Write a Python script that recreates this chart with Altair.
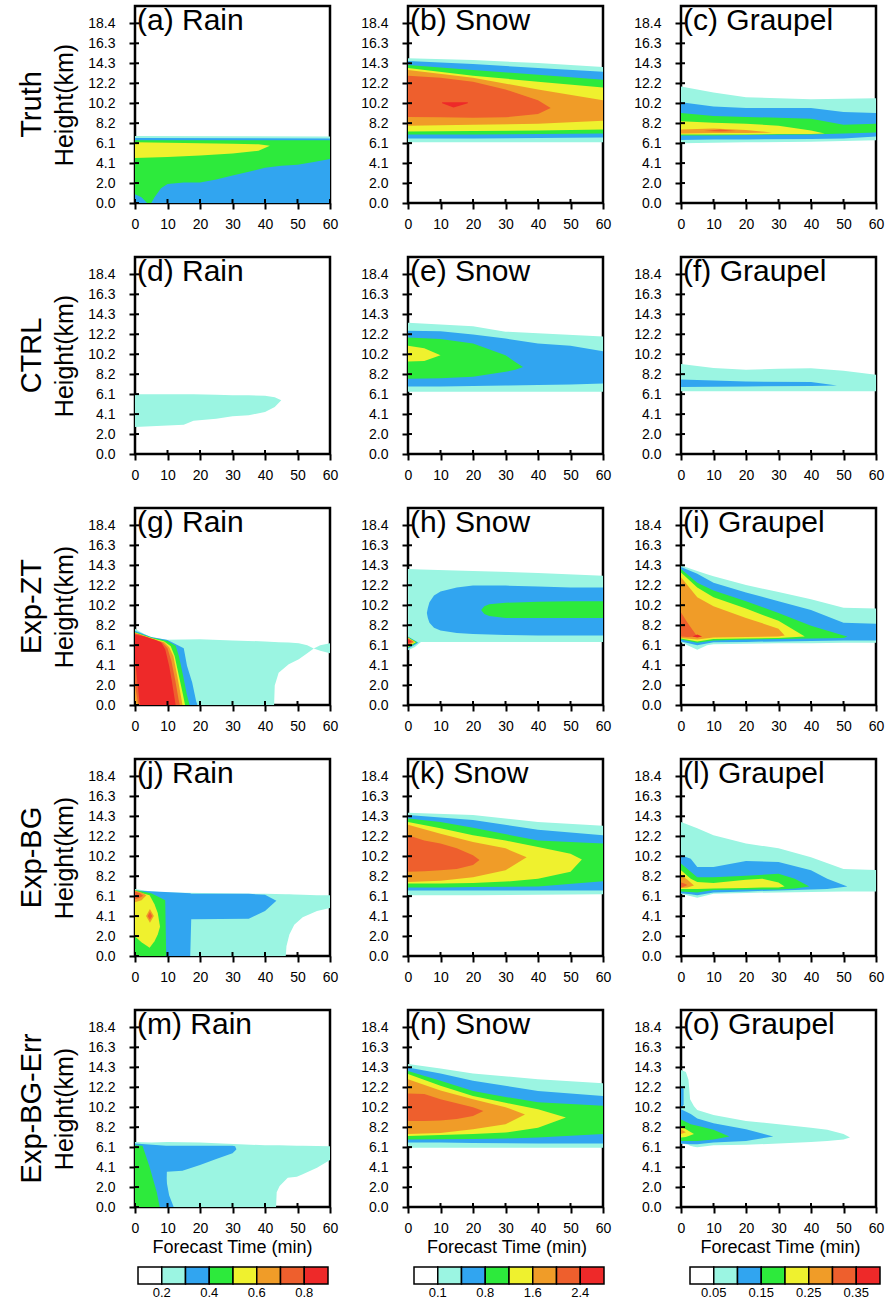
import altair as alt
import pandas as pd

FONT = "Liberation Sans"
LEVEL_COLORS = ["#ffffff", "#9bf5e2", "#31a5f0", "#2dea3c", "#eff12e", "#f09c28", "#ee5f2d", "#ee2929"]
ROW_NAMES = ["Truth", "CTRL", "Exp-ZT", "Exp-BG", "Exp-BG-Err"]
COL_NAMES = ["Rain", "Snow", "Graupel"]
LETTERS = list("abcdefghijklmno")
X_TICKS = [0, 10, 20, 30, 40, 50, 60]
Y_TICKS = [0, 2.04, 4.08, 6.12, 8.16, 10.2, 12.24, 14.28, 16.32, 18.36]
Y_LABELS = ["0.0", "2.0", "4.1", "6.1", "8.2", "10.2", "12.2", "14.3", "16.3", "18.4"]
Y_MAX = 20.13
X_TITLE = "Forecast Time (min)"
Y_TITLE = "Height(km)"
CB_LABEL_POS = [1, 3, 5, 7]
CB_LABELS = [["0.2", "0.4", "0.6", "0.8"],
             ["0.1", "0.8", "1.6", "2.4"],
             ["0.05", "0.15", "0.25", "0.35"]]

# pieces: (level, times, lower km, upper km)
A_RAIN = [
    (1, [0, 60], [0, 0], [6.85, 6.8]),
    (2, [0, 60], [0, 0], [6.65, 6.6]),
    (3, [0, 2, 3.7, 5, 6, 8, 10, 15, 20, 25, 30, 35, 40, 45, 50, 55, 60],
        [0.9, 0.6, 0, 0, 0.6, 1.5, 1.95, 2.1, 2.1, 2.4, 2.8, 3.2, 3.6, 3.8, 3.9, 4.2, 4.5],
        [6.4, 6.4, 6.4, 6.4, 6.4, 6.4, 6.4, 6.4, 6.4, 6.4, 6.4, 6.4, 6.4, 6.4, 6.4, 6.4, 6.4]),
    (4, [0, 10, 20, 30, 38, 41.5], [4.6, 4.7, 4.85, 5.05, 5.35, 5.85], [6.2, 6.15, 6.1, 6.05, 6.0, 5.85]),
]
B_SNOW = [
    (1, [0, 20, 40, 60], [6.2, 6.2, 6.2, 6.2], [14.8, 14.6, 14.3, 13.9]),
    (2, [0, 20, 40, 60], [6.6, 6.6, 6.65, 6.7], [14.5, 14.2, 13.8, 13.4]),
    (3, [0, 20, 40, 60], [7.0, 7.0, 7.05, 7.1], [14.1, 13.6, 13.1, 12.6]),
    (4, [0, 20, 40, 60], [7.3, 7.35, 7.4, 7.5], [13.8, 13.0, 12.4, 11.8]),
    (5, [0, 20, 40, 60], [7.9, 8.0, 8.1, 8.4], [13.6, 12.8, 11.6, 10.5]),
    (6, [0, 10, 20, 30, 40, 43.9], [8.8, 8.75, 8.7, 8.75, 9.1, 9.7], [13.0, 12.8, 12.4, 11.6, 10.5, 9.7]),
    (7, [10.5, 14, 18.4], [10.2, 9.75, 10.2], [10.3, 10.3, 10.3]),
]
C_GRAUPEL = [
    (1, [0, 10, 20, 40, 60], [6.1, 6.15, 6.2, 6.25, 6.4], [11.9, 11.3, 10.8, 10.6, 10.7]),
    (2, [0, 10, 20, 40, 50, 60], [6.45, 6.5, 6.5, 6.55, 6.6, 6.8], [10.3, 9.85, 9.7, 9.7, 9.3, 9.2]),
    (3, [0, 10, 20, 40, 50, 60], [6.9, 6.9, 6.95, 7.0, 7.1, 7.2], [9.2, 8.9, 8.8, 8.6, 8.0, 8.1]),
    (4, [0, 10, 20, 30, 40, 44.2], [7.0, 7.0, 7.0, 7.05, 7.05, 7.1], [8.35, 8.2, 8.1, 7.9, 7.4, 7.1]),
    (5, [0, 10, 20, 28], [7.1, 7.15, 7.15, 7.2], [7.5, 7.6, 7.45, 7.2]),
    (6, [7, 12, 17], [7.35, 7.3, 7.35], [7.35, 7.5, 7.35]),
]
D_RAIN = [
    (1, [0, 10, 15, 18, 25, 30, 35, 40, 43, 45],
        [2.75, 2.9, 3.0, 3.4, 3.6, 3.85, 3.95, 4.3, 4.8, 5.5],
        [6.1, 6.1, 6.1, 6.1, 6.05, 6.0, 6.0, 5.95, 5.8, 5.5]),
]
E_SNOW = [
    (1, [0, 20, 30, 40, 60], [6.35, 6.35, 6.35, 6.35, 6.35], [13.4, 13.05, 12.5, 12.35, 12.0]),
    (2, [0, 10, 20, 30, 40, 50, 60], [6.9, 6.9, 6.95, 7.0, 7.05, 7.1, 7.2],
        [12.6, 12.55, 12.2, 11.8, 11.3, 11.05, 10.5]),
    (3, [0, 10, 20, 30, 33, 35.4], [7.7, 7.75, 7.9, 8.4, 8.6, 8.9], [11.9, 11.75, 11.3, 10.1, 9.4, 8.9]),
    (4, [0, 5, 10], [9.45, 9.5, 10.1], [11.05, 10.8, 10.1]),
]
F_GRAUPEL = [
    (1, [0, 10, 20, 30, 40, 50, 60], [6.4, 6.4, 6.4, 6.4, 6.4, 6.4, 6.4], [9.2, 8.8, 8.6, 8.7, 8.75, 8.5, 8.1]),
    (2, [0, 20, 40, 48], [6.85, 6.9, 6.95, 7.0], [7.6, 7.4, 7.35, 7.0]),
]
G_RAIN = [
    (1, [0, 3, 5, 10, 20, 30, 40, 42.8, 43.0, 44.2, 47.3, 50.4, 53, 55, 57, 60],
        [0, 0, 0, 0, 0, 0, 0, 0, 2.0, 3.3, 4.17, 4.68, 5.3, 5.78, 5.55, 5.3],
        [7.8, 7.24, 6.9, 6.66, 6.73, 6.6, 6.49, 6.45, 6.45, 6.42, 6.38, 6.32, 6.1, 5.78, 6.1, 6.32]),
    (2, [0, 3, 5, 10, 15, 16, 17.6, 18.8, 19.2], [0, 0, 0, 0, 0, 0, 0, 0, 0],
        [7.58, 7.2, 6.95, 6.65, 5.8, 4.0, 2.3, 0.4, 0]),
    (3, [0, 5, 10, 12.5, 13.5, 14.8, 16, 16.8], [0, 0, 0, 0, 0, 0, 0, 0],
        [7.45, 6.9, 6.55, 6.05, 5.0, 3.0, 1.0, 0]),
    (4, [0, 5, 9, 11, 12.2, 13.5, 14.8, 15.4], [0, 0, 0, 0, 0, 0, 0, 0],
        [7.4, 6.85, 6.5, 6.0, 5.0, 3.0, 1.0, 0]),
    (5, [0, 0.6, 5, 9, 10.5, 11.8, 13, 14.2, 14.6], [0.5, 0, 0, 0, 0, 0, 0, 0, 0],
        [7.35, 7.3, 6.8, 6.4, 5.9, 5.0, 3.0, 0.8, 0]),
    (6, [0, 1, 5, 8.5, 10, 11.2, 12.4, 13.4, 13.8], [2.0, 0, 0, 0, 0, 0, 0, 0, 0],
        [7.3, 7.25, 6.75, 6.35, 5.8, 4.5, 2.5, 0.6, 0]),
    (7, [0, 0.5, 1.5, 3, 6, 8, 9.3, 10.5, 11.4, 12.5], [4.7, 3.0, 0, 0, 0, 0, 0, 0, 0, 0],
        [7.2, 7.15, 7.1, 7.0, 6.7, 6.4, 5.7, 4.0, 2.3, 0]),
]
H_SNOW = [
    (1, [0, 2, 4, 20, 40, 60], [5.6, 5.9, 6.45, 6.45, 6.45, 6.45], [13.9, 13.88, 13.85, 13.7, 13.5, 13.2]),
    (2, [5.8, 6.1, 6.6, 8, 10, 15, 20, 30, 40, 50, 60],
        [9.4, 8.9, 8.4, 7.9, 7.6, 7.35, 7.25, 7.15, 7.1, 7.1, 7.1],
        [9.4, 9.9, 10.5, 11.2, 11.6, 12.0, 12.2, 12.2, 12.1, 12.0, 12.0]),
    (2, [0, 3.2], [5.75, 6.35], [7.0, 6.35]),
    (3, [22.5, 23.5, 25, 30, 40, 50, 60], [9.7, 9.3, 9.1, 8.9, 8.9, 8.9, 8.9], [9.7, 10.1, 10.3, 10.45, 10.55, 10.6, 10.6]),
    (3, [0, 2.8], [5.85, 6.4], [6.95, 6.4]),
    (4, [0, 2.4], [5.95, 6.42], [6.9, 6.42]),
    (5, [0, 2.0], [6.05, 6.45], [6.85, 6.45]),
    (6, [0, 1.6], [6.15, 6.5], [6.8, 6.5]),
    (7, [0, 1.0], [6.3, 6.5], [6.7, 6.5]),
]
I_GRAUPEL = [
    (1, [0, 5, 8, 10, 20, 30, 40, 50, 60], [6.4, 5.65, 6.1, 6.2, 6.25, 6.3, 6.3, 6.35, 6.35],
        [14.25, 13.7, 13.35, 13.15, 12.25, 11.55, 10.8, 9.95, 9.85]),
    (2, [0, 5, 10, 20, 30, 40, 50, 60], [6.5, 6.1, 6.4, 6.45, 6.5, 6.55, 6.6, 6.6],
        [14.1, 13.4, 12.5, 11.5, 10.6, 9.7, 8.4, 8.3]),
    (3, [0, 5, 10, 20, 30, 40, 50, 51.2], [6.7, 6.35, 6.6, 6.7, 6.75, 6.8, 6.85, 7.0],
        [13.9, 12.5, 11.7, 10.6, 9.4, 8.1, 7.1, 7.0]),
    (4, [0, 5, 10, 20, 30, 38.1], [6.8, 6.5, 6.75, 6.8, 6.85, 7.0], [13.55, 12.0, 11.0, 9.85, 8.6, 7.0]),
    (5, [0, 5, 10, 20, 30, 31.9], [6.85, 6.7, 6.9, 6.95, 7.0, 7.1], [13.05, 11.0, 10.1, 8.9, 7.8, 7.1]),
    (6, [0, 2, 5], [7.0, 6.95, 7.0], [9.45, 8.4, 7.0]),
    (7, [3.5, 5, 6.5], [7.0, 6.9, 7.0], [7.0, 7.2, 7.0]),
]
J_RAIN = [
    (1, [0, 5, 10, 40, 46.4, 46.6, 47.5, 49, 51.6, 56, 60],
        [0, 0, 0, 0, 0, 1.0, 2.2, 3.2, 3.95, 4.6, 4.9],
        [6.85, 6.6, 6.5, 6.35, 6.3, 6.3, 6.3, 6.28, 6.25, 6.22, 6.2]),
    (2, [0, 17.0, 17.3, 35, 40, 43.5], [0, 0, 3.75, 3.8, 4.6, 5.65], [6.7, 6.4, 6.35, 6.35, 6.25, 5.65]),
    (3, [0, 5, 9.3, 9.6], [0, 0, 0, 0], [6.75, 6.4, 5.7, 0]),
    (4, [0, 2, 4.5, 6, 7, 7.7], [2.0, 1.4, 0.85, 1.5, 2.2, 3.0], [6.5, 6.45, 6.2, 5.3, 4.4, 3.0]),
    (5, [0, 2, 3.5], [5.5, 5.7, 6.2], [6.7, 6.5, 6.2]),
    (5, [3.4, 4.6, 5.8], [4.1, 3.4, 4.1], [4.1, 4.8, 4.1]),
    (6, [0, 1.5, 2.5], [5.8, 5.95, 6.15], [6.6, 6.4, 6.15]),
    (6, [3.9, 4.6, 5.3], [4.1, 3.7, 4.1], [4.1, 4.5, 4.1]),
]
K_SNOW = [
    (1, [0, 20, 40, 60], [6.2, 6.22, 6.25, 6.3], [14.65, 14.4, 13.7, 13.3]),
    (2, [0, 20, 40, 60], [6.7, 6.7, 6.7, 6.7], [14.4, 13.9, 12.9, 12.35]),
    (3, [0, 10, 20, 40, 60], [7.0, 7.0, 7.05, 7.1, 7.65], [14.05, 13.7, 13.1, 11.8, 11.5]),
    (4, [0, 10, 20, 30, 40, 50, 53.5], [7.4, 7.42, 7.45, 7.6, 7.9, 8.6, 9.85],
        [13.7, 13.05, 12.35, 11.8, 11.15, 10.45, 9.85]),
    (5, [0, 10, 20, 30, 36.5], [7.55, 7.7, 8.05, 8.75, 10.1], [13.4, 12.5, 11.65, 11.0, 10.1]),
    (6, [0, 5, 10, 15, 20, 22], [8.6, 8.65, 8.75, 8.9, 9.3, 9.8], [12.35, 11.8, 11.5, 11.0, 10.3, 9.8]),
]
L_GRAUPEL = [
    (1, [0, 5, 10, 20, 30, 40, 50, 60], [6.35, 5.95, 6.35, 6.45, 6.5, 6.55, 6.6, 6.6],
        [13.7, 13.05, 12.35, 11.5, 11.0, 10.1, 8.9, 8.8]),
    (2, [0, 3, 5, 10, 20, 30, 40, 45, 51.2], [6.4, 6.3, 6.2, 6.5, 6.6, 6.7, 6.8, 6.85, 7.1],
        [10.3, 9.95, 9.1, 9.1, 9.7, 9.6, 8.75, 7.9, 7.1]),
    (3, [0, 5, 10, 20, 30, 35, 39.5], [6.6, 6.5, 6.75, 6.8, 6.8, 6.9, 7.1], [9.45, 8.05, 8.05, 8.2, 8.4, 7.9, 7.1]),
    (4, [0, 3, 5, 10, 20, 25, 30, 31.9], [6.85, 6.85, 6.85, 6.9, 6.95, 7.0, 7.0, 7.1],
        [8.75, 7.9, 7.55, 7.45, 7.8, 7.9, 7.5, 7.1]),
    (5, [0, 2, 4], [6.95, 7.0, 7.2], [8.25, 7.8, 7.2]),
    (6, [0, 1, 2], [7.0, 7.1, 7.25], [7.5, 7.4, 7.25]),
]
M_RAIN = [
    (1, [0, 5, 10, 20, 40, 43.4, 43.6, 44.5, 47, 49.8, 51.6, 56, 60],
        [0, 0, 0, 0, 0, 0, 1.5, 2.15, 3.0, 3.1, 3.35, 4.0, 4.8],
        [6.65, 6.6, 6.65, 6.6, 6.3, 6.3, 6.3, 6.3, 6.28, 6.27, 6.26, 6.23, 6.2]),
    (2, [0, 9.6, 9.8, 14.6, 20, 25, 30, 30.8, 31.2], [0, 0, 3.6, 3.7, 4.3, 4.9, 5.5, 5.75, 5.9],
        [6.5, 6.25, 6.25, 6.25, 6.25, 6.25, 6.25, 6.2, 5.9]),
    (2, [9.5, 10.5, 11.9], [0, 0, 0], [3.0, 1.2, 0]),
    (3, [0, 2.3, 4.4, 6.7, 7.6], [0, 0, 0, 0, 0], [6.3, 6.25, 4.2, 1.5, 0]),
]
N_SNOW = [
    (1, [0, 10, 20, 40, 60], [6.05, 6.05, 6.05, 6.05, 6.05], [14.6, 14.15, 13.65, 13.05, 12.65]),
    (2, [0, 10, 20, 40, 60], [6.6, 6.6, 6.55, 6.5, 6.5], [14.25, 13.65, 12.9, 11.85, 11.35]),
    (3, [0, 10, 20, 30, 40, 60], [6.9, 6.92, 6.95, 7.0, 7.1, 7.45], [13.9, 12.9, 11.85, 11.25, 10.7, 10.35]),
    (4, [0, 10, 20, 30, 40, 48.6], [7.25, 7.35, 7.45, 7.6, 8.1, 9.15], [13.6, 12.4, 11.35, 10.65, 10.0, 9.15]),
    (5, [0, 10, 20, 30, 36], [7.45, 7.55, 7.95, 8.45, 9.45], [13.05, 11.9, 11.0, 10.2, 9.45]),
    (6, [0, 5, 10, 15, 20, 23.2], [8.8, 8.8, 8.85, 9.0, 9.3, 9.8], [11.6, 11.55, 11.0, 10.6, 10.2, 9.8]),
]
O_GRAUPEL = [
    (1, [0, 1.5, 2.3, 2.8, 4, 5, 10, 20, 30, 40, 45, 50, 52],
        [6.5, 6.4, 6.35, 6.25, 6.15, 6.1, 6.3, 6.35, 6.5, 6.65, 6.75, 6.9, 7.1],
        [14.0, 13.8, 13.0, 11.0, 10.3, 9.9, 9.4, 8.8, 8.45, 8.1, 7.9, 7.45, 7.1]),
    (2, [0, 3, 5, 10, 20, 28.4], [6.5, 6.4, 6.4, 6.6, 6.75, 7.2], [10.0, 9.5, 9.05, 8.55, 7.95, 7.2]),
    (2, [0, 0.8], [10.0, 10.5], [12.4, 12.0]),
    (3, [0, 3, 5, 10, 14.9], [6.75, 6.75, 6.75, 6.9, 7.2], [8.95, 8.45, 8.3, 7.9, 7.2]),
    (4, [0, 1.5, 4], [7.1, 7.15, 7.45], [8.3, 7.95, 7.45]),
    (5, [0, 1.5], [7.45, 7.65], [7.95, 7.65]),
]

PANELS = [
    [A_RAIN, B_SNOW, C_GRAUPEL],
    [D_RAIN, E_SNOW, F_GRAUPEL],
    [G_RAIN, H_SNOW, I_GRAUPEL],
    [J_RAIN, K_SNOW, L_GRAUPEL],
    [M_RAIN, N_SNOW, O_GRAUPEL],
]

W, H = 195, 197
CB_W, CB_H = 190, 17
CB_LEFT_EXTRA = 3
CB_TITLE_X = [97.5, 93, 90.5]
H_SPACING = 19
V_SPACING = 22
CB_SPACING = 1
CB_GAP = 82
IN_TICK = 4

Y_LABEL_EXPR = "[" + ",".join("'%s'" % s for s in Y_LABELS) + "][round(datum.value / 2.04)]"
FRAME = alt.ViewBackground(stroke="black", strokeWidth=2.5)


def make_df(pieces):
    rows = []
    for pid, (lev, ts, los, his) in enumerate(pieces):
        for t, lo, hi in zip(ts, los, his):
            rows.append({"piece": pid, "level": lev, "t": t, "lo": lo, "hi": hi})
    return pd.DataFrame(rows)


XSCALE = alt.Scale(domain=[0, 60], nice=False, zero=False)
YSCALE = alt.Scale(domain=[0, Y_MAX], nice=False, zero=False)


def panel(r, c):
    df = make_df(PANELS[r][c])
    xaxis = alt.Axis(values=X_TICKS, title=None, tickSize=6, tickWidth=2, tickColor="black", domain=False,
                     grid=False, labelFontSize=14, labelFont=FONT, labelColor="black", labelPadding=8,
                     labelFlush=False, labelOverlap=False)
    yaxis_kw = dict(values=Y_TICKS, labelExpr=Y_LABEL_EXPR, tickSize=6, tickWidth=2, tickColor="black",
                    domain=False, grid=False, labelFontSize=14, labelFont=FONT, labelColor="black",
                    labelPadding=14, labelFlush=False, labelOverlap=False)
    if c == 0:
        yaxis = alt.Axis(title=Y_TITLE, titleFontSize=25, titleFont=FONT, titleFontWeight="normal",
                         titleColor="black", titlePadding=10, **yaxis_kw)
    else:
        yaxis = alt.Axis(title=None, **yaxis_kw)
    x = alt.X("t:Q", scale=XSCALE, axis=xaxis)
    y = alt.Y("lo:Q", scale=YSCALE, axis=yaxis, stack=None)
    layers = []
    for lev in sorted(df["level"].unique()):
        sub = df[df["level"] == lev]
        layers.append(
            alt.Chart(sub).mark_area(color=LEVEL_COLORS[int(lev)], clip=True, interpolate="linear",
                                     opacity=1, strokeWidth=0)
            .encode(x=x, y=y, y2="hi:Q", detail="piece:N")
        )
    # inner halves of the tick marks
    ytk = alt.Chart(pd.DataFrame({"lo": Y_TICKS})).mark_rule(color="black", strokeWidth=2).encode(
        y=y, x=alt.value(0), x2=alt.value(IN_TICK))
    xtk = alt.Chart(pd.DataFrame({"t": X_TICKS})).mark_rule(color="black", strokeWidth=2).encode(
        x=x, y=alt.value(H), y2=alt.value(H - IN_TICK))
    layers += [ytk, xtk]
    label = alt.Chart(pd.DataFrame({"s": ["(%s) %s" % (LETTERS[r * 3 + c], COL_NAMES[c])]})).mark_text(
        align="left", baseline="top", fontSize=30, font=FONT, color="black"
    ).encode(text="s:N", x=alt.value(2), y=alt.value(0))
    layers.append(label)
    if c == 0:
        rowlab = alt.Chart(pd.DataFrame({"s": [ROW_NAMES[r]]})).mark_text(
            align="center", baseline="middle", angle=270, fontSize=29, font=FONT, color="black"
        ).encode(text="s:N", x=alt.value(-103), y=alt.value(H / 2))
        layers.append(rowlab)
    return alt.layer(*layers).properties(width=W, height=H, view=FRAME)


def colorbar(c, extra_left):
    cbdf = pd.DataFrame({"idx": list(range(8)), "x0": list(range(8)), "x1": list(range(1, 9))})
    lab = pd.DataFrame({"pos": CB_LABEL_POS, "s": CB_LABELS[c]})
    xs = alt.Scale(domain=[-extra_left / CB_W * 8, 8], nice=False, zero=False)
    rect = alt.Chart(cbdf).mark_rect(stroke="black", strokeWidth=1.5).encode(
        x=alt.X("x0:Q", scale=xs, axis=None), x2="x1:Q",
        color=alt.Color("idx:O", scale=alt.Scale(domain=list(range(8)), range=LEVEL_COLORS), legend=None),
    )
    text = alt.Chart(lab).mark_text(fontSize=13, baseline="top", font=FONT, color="black").encode(
        x=alt.X("pos:Q", scale=xs, axis=None), y=alt.value(CB_H + 3), text="s:N"
    )
    title = alt.Chart(pd.DataFrame({"s": [X_TITLE]})).mark_text(
        fontSize=18, baseline="top", align="center", font=FONT, color="black"
    ).encode(text="s:N", x=alt.value(CB_TITLE_X[c]), y=alt.value(-28.5))
    return alt.layer(rect, text, title).properties(width=CB_W + extra_left, height=CB_H,
                                                    view=alt.ViewBackground(stroke="transparent"))


rows = [alt.hconcat(*[panel(r, c) for c in range(3)], spacing=H_SPACING) for r in range(5)]
cbrow = alt.hconcat(colorbar(0, CB_LEFT_EXTRA), colorbar(1, 0), colorbar(2, 0), spacing=CB_GAP)
top = alt.vconcat(*rows[:4], spacing=V_SPACING)
bottom = alt.vconcat(rows[4], cbrow, spacing=CB_SPACING)
chart = alt.vconcat(top, bottom, spacing=V_SPACING).properties(
    padding={"left": 16, "top": 4, "right": 0, "bottom": 0}
).configure(font=FONT)

chart.save("out.html", embed_options={"renderer": "svg", "actions": False})
